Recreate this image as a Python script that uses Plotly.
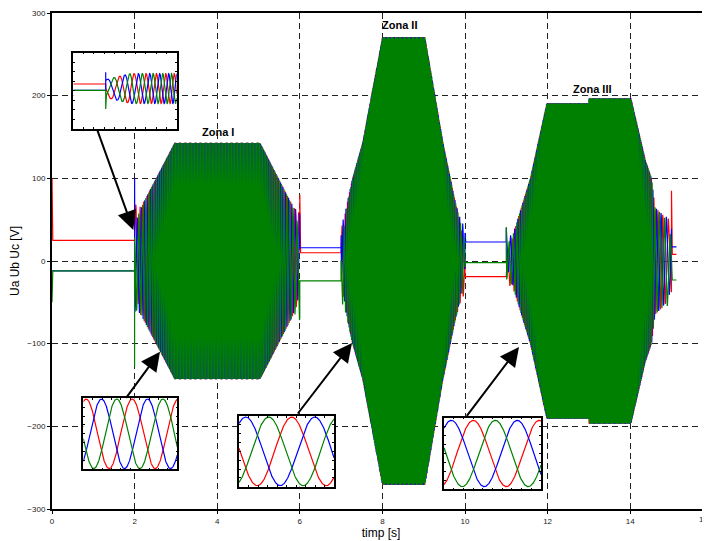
import numpy as np
import plotly.graph_objects as go

# ---------------- values ----------------
PHASES = ["Ua", "Ub", "Uc"]
COLORS = {"Ua": "#ff0000", "Ub": "#0000ff", "Uc": "#008000"}

t_end = 15.12          # s, last sample of the record
dt = 0.001             # s, sampling step of the record

# steady (idle) levels of the three phases [V]
idle_start = [0.0, 6.0, 10.0, 15.0]
idle_stop = [2.0, 7.0, 11.0, 15.12]
idle_Ua = [25, 10, -19, 8]
idle_Ub = [-12, 16, 23, 17]
idle_Uc = [-12, -24, -2, -23]

# envelopes (amplitude [V]) and visible oscillation rate [Hz] of the zones
zone1_t = [2.0, 2.3, 2.97, 5.04, 5.7, 6.0]
zone1_amp = [50, 79, 143, 143, 79, 50]
zone1_frq = [8, 14, 28, 28, 14, 8]

zone2_t = [7.0, 7.17, 7.27, 7.52, 8.0, 9.03, 9.47, 9.76, 10.0]
zone2_amp = [30, 75, 99, 143, 271, 271, 143, 73, 25]
zone2_frq = [10, 20, 24, 30, 45, 45, 30, 20, 10]

zone3_t = [11.0, 11.15, 11.58, 11.98, 12.995, 13.0, 14.02, 14.37, 14.52, 14.6, 15.0]
zone3_amp = [20, 30, 100, 191, 191, 197, 197, 122, 100, 65, 45]
zone3_frq = [8, 10, 25, 35, 35, 36, 36, 25, 20, 10, 6]
zone_reverse = [False, False, True]

# single-sample switching spikes
spike_t = [0.0, 0.0, 2.0, 2.0, 6.0, 7.0, 10.0, 11.0, 15.0]
spike_phase = ["Ua", "Uc", "Ub", "Uc", "Ua", "Ub", "Ub", "Uc", "Ua"]
spike_v = [100, -50, 100, -128, 80, 31, 34, 41, 85]

# axis ticks
x_ticks = [0, 2, 4, 6, 8, 10, 12, 14]
y_ticks = [-300, -200, -100, 0, 100, 200, 300]

zone_labels = ["Zona I", "Zona II", "Zona III"]
zone_label_t = [4.01, 8.42, 13.09]
zone_label_v = [156, 285, 208]

# inset 1 (start of zone I), in inset pixel units
ins1_flat_end = 32.4
ins1_level = {"Ua": 6.85, "Ub": 0.55, "Uc": 0.55}
ins1_spike = {"Ub": 18.5, "Uc": -18.2}
ins1_center = 2.3
ins1_amp = [9, 15]
ins1_period = [22, 8]
ins1_xmax = 103.4
ins1_ymax = 38.15

# insets 2-4 (steady three-phase waves), normalised x in [0, 1]
ins_period = [0.49, 0.726, 0.68]
ins_red_peak = [0.52, 0.555, 0.302]
ins_reverse = [False, False, True]
ins_yspan = [1.02, 1.03, 1.08]

# ---------------- layout geometry (page pixels) ----------------
OFF = 8                      # default page margin around the figure
W, H = 710 - OFF, 541 - OFF  # figure size
PLOT_L, PLOT_T, PLOT_B = 52, 13, 509   # plot area in page pixels
ML, MT, MB = PLOT_L - OFF, PLOT_T - OFF, H - (PLOT_B - OFF)
PX_PER_S = 41.3
PLOT_W = W - ML
PLOT_H = H - MT - MB
X_MAX = PLOT_W / PX_PER_S


def pxx(px):
    return (px - PLOT_L) / PLOT_W


def pxy(py):
    return (PLOT_B - py) / PLOT_H


inset_boxes = [(73.3, 52.7, 176.7, 129.0), (83.3, 398.3, 177.3, 469.3),
               (239.0, 416.0, 334.0, 486.7), (444.0, 417.7, 541.0, 489.3)]
arrows = [((133.3, 230.0), (96.7, 128.3)), ((160.0, 351.7), (125.0, 399.3)),
          ((352.0, 343.0), (296.7, 415.0)), ((519.0, 347.0), (465.7, 417.3))]

# ---------------- build the record ----------------
t = np.round(np.arange(0, t_end + dt / 2, dt), 6)
U = {p: np.zeros_like(t) for p in PHASES}
idle = {"Ua": idle_Ua, "Ub": idle_Ub, "Uc": idle_Uc}
for k, (s, e) in enumerate(zip(idle_start, idle_stop)):
    m = (t >= s) & (t <= e)
    for p in PHASES:
        U[p][m] = idle[p][k]

zones = [(zone1_t, zone1_amp, zone1_frq), (zone2_t, zone2_amp, zone2_frq),
         (zone3_t, zone3_amp, zone3_frq)]
sh = 2 * np.pi / 3
tau = 0.06
for k, (zt, za, zf) in enumerate(zones):
    m = (t >= zt[0]) & (t < zt[-1])
    tt = t[m]
    A = np.interp(tt, zt, za)
    f = np.interp(tt, zt, zf)
    th = 2 * np.pi * np.cumsum(f) * dt
    rev = zone_reverse[k]
    carr = {"Ua": np.sin(th),
            "Ub": np.sin(th + sh) if rev else np.sin(th - sh),
            "Uc": np.sin(th - sh) if rev else np.sin(th + sh)}
    w0 = np.exp(-(tt - zt[0]) / tau)
    w1 = np.exp(-(zt[-1] - tt) / tau)
    for p in PHASES:
        U[p][m] = A * carr[p] + idle[p][k] * w0 + idle[p][k + 1] * w1

for st, sp, sv in zip(spike_t, spike_phase, spike_v):
    U[sp][int(np.argmin(np.abs(t - st)))] = sv

fig = go.Figure()
for p in PHASES:
    fig.add_trace(go.Scatter(x=t, y=U[p], mode="lines", name=p,
                             line=dict(color=COLORS[p], width=1.2),
                             hoverinfo="skip", xaxis="x", yaxis="y"))

# ---------------- insets ----------------
x1f = np.linspace(0, ins1_flat_end, 20)
x1o = np.linspace(ins1_flat_end, ins1_xmax, 600)
fr = np.interp(x1o, [ins1_flat_end, ins1_xmax], [1 / ins1_period[0], 1 / ins1_period[1]])
th1 = np.pi / 3 + 2 * np.pi * np.concatenate([[0], np.cumsum(fr[1:] * np.diff(x1o))])
a1 = np.interp(x1o, [ins1_flat_end, ins1_flat_end + 25], ins1_amp)
ins1_carr = {"Ua": np.sin(th1 + sh), "Ub": np.sin(th1), "Uc": np.sin(th1 - sh)}
for p in PHASES:
    xs = list(x1f) + [ins1_flat_end]
    ys = [ins1_level[p]] * len(x1f) + [ins1_spike.get(p, ins1_level[p])]
    xs += list(x1o)
    ys += list(ins1_center + a1 * ins1_carr[p])
    fig.add_trace(go.Scatter(x=xs, y=ys, mode="lines", line=dict(color=COLORS[p], width=1.2),
                             hoverinfo="skip", xaxis="x2", yaxis="y2"))

xs = np.linspace(0, 1, 400)
for i in range(3):
    ph = 2 * np.pi * (xs - ins_red_peak[i]) / ins_period[i]
    car = {"Ua": np.cos(ph),
           "Ub": np.cos(ph + sh) if ins_reverse[i] else np.cos(ph - sh),
           "Uc": np.cos(ph - sh) if ins_reverse[i] else np.cos(ph + sh)}
    for p in PHASES:
        fig.add_trace(go.Scatter(x=xs, y=car[p], mode="lines", line=dict(color=COLORS[p], width=1.2),
                                 hoverinfo="skip", xaxis=f"x{i + 3}", yaxis=f"y{i + 3}"))

FONT = "Liberation Sans, Arial, sans-serif"
grid = dict(showgrid=True, gridcolor="#222222", griddash="6px,4px", gridwidth=1,
            zeroline=False, showline=True, linecolor="black", linewidth=2,
            ticks="outside", ticklen=3, tickcolor="black",
            tickfont=dict(family=FONT, size=8, color="#222222"))

layout = dict(
    width=W, height=H, margin=dict(l=ML, r=0, t=MT, b=MB, pad=0),
    paper_bgcolor="white", plot_bgcolor="white", showlegend=False,
    font=dict(family=FONT, color="black"),
    xaxis=dict(range=[0, X_MAX], tickvals=x_ticks, mirror=True, domain=[0, 1],
               title=dict(text="timp [s]", font=dict(size=12), standoff=4), **grid),
    yaxis=dict(range=[-300, 300], tickvals=y_ticks, domain=[0, 1],
               title=dict(text="Ua Ub Uc [V]", font=dict(size=12), standoff=6), **grid),
)
inset_ranges = [([0, ins1_xmax], [-ins1_ymax, ins1_ymax])] + \
    [([0, 1], [-s, s]) for s in ins_yspan]
for i, ((x0, y0, x1, y1), (xr, yr)) in enumerate(zip(inset_boxes, inset_ranges)):
    n = i + 2
    common = dict(showgrid=False, zeroline=False, showline=True, linecolor="black",
                  linewidth=1.5, mirror="ticks", ticks="inside", ticklen=2,
                  tickcolor="black", showticklabels=False)
    layout[f"xaxis{n}"] = dict(domain=[pxx(x0), pxx(x1)], range=xr, anchor=f"y{n}",
                               dtick=(xr[1] - xr[0]) / 10, tick0=xr[0], **common)
    layout[f"yaxis{n}"] = dict(domain=[pxy(y1), pxy(y0)], range=yr, anchor=f"x{n}",
                               dtick=(yr[1] - yr[0]) / 8, tick0=yr[0], **common)

ann = []
for lab, lx, ly in zip(zone_labels, zone_label_t, zone_label_v):
    ann.append(dict(x=lx, y=ly, xref="x", yref="y", text=f"<b>{lab}</b>", showarrow=False,
                    font=dict(family=FONT, size=11, color="black")))
for (hx, hy), (tx, ty) in arrows:
    ann.append(dict(x=pxx(hx), y=pxy(hy), xref="paper", yref="paper", text="",
                    showarrow=True, arrowhead=2, arrowsize=1.9, arrowwidth=2,
                    arrowcolor="black", ax=tx - hx, ay=ty - hy))
# the "16" tick label is cut by the right edge of the window in the reference
ann.append(dict(x=pxx(710), y=0, xref="paper", yref="paper", text="16",
                showarrow=False, yanchor="top", yshift=-4,
                font=dict(family=FONT, size=8, color="#222222")))
layout["annotations"] = ann

fig.update_layout(**layout)
fig.write_html("out.html")
